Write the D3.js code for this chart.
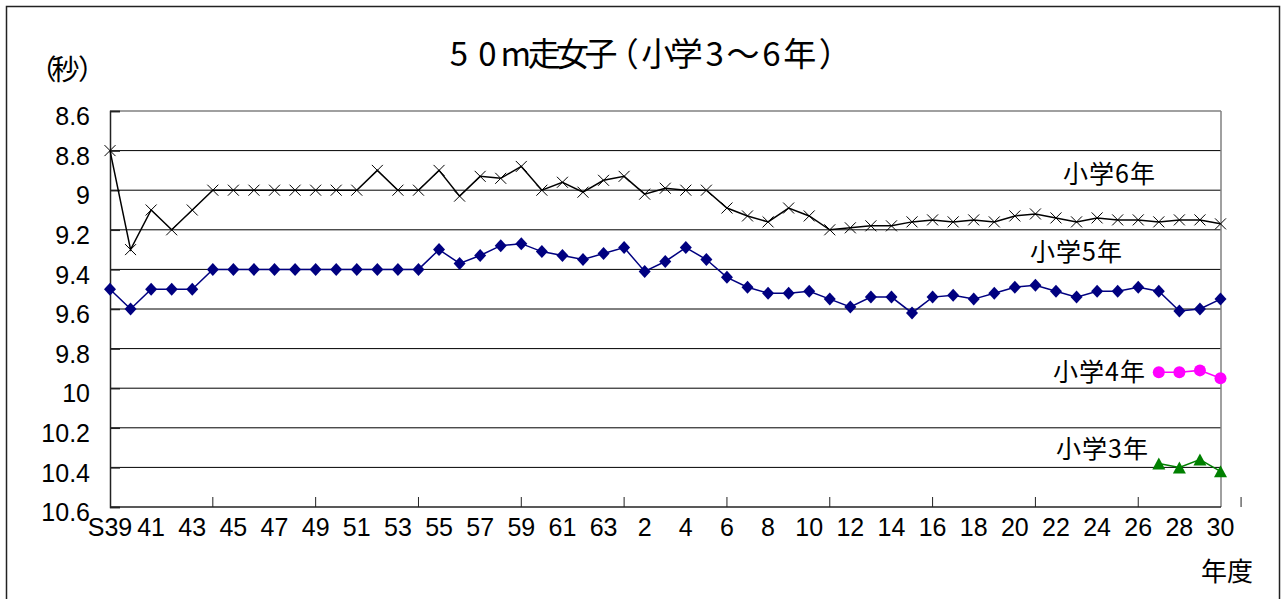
<!DOCTYPE html>
<html>
<head>
<meta charset="utf-8">
<script src="https://cdn.jsdelivr.net/npm/d3@7"></script>
<style>
  html, body { margin: 0; padding: 0; background: #fff; }
  svg { display: block; }
</style>
</head>
<body>
<svg id="chart" width="1282" height="599"></svg>
<script>
// 年度（昭和39年度〜平成30年度）
const categories = [
  "S39","S40","S41","S42","S43","S44","S45","S46","S47","S48","S49","S50","S51","S52",
  "S53","S54","S55","S56","S57","S58","S59","S60","S61","S62","S63",
  "H1","H2","H3","H4","H5","H6","H7","H8","H9","H10","H11","H12","H13","H14","H15",
  "H16","H17","H18","H19","H20","H21","H22","H23","H24","H25","H26","H27","H28","H29","H30"
];

// 横軸に表示する年度ラベル（1年おき）
const xTickLabels = [
  "S39","41","43","45","47","49","51","53","55","57","59","61","63",
  "2","4","6","8","10","12","14","16","18","20","22","24","26","28","30"
];

// 縦軸目盛（秒）
const yTicks = [8.6, 8.8, 9, 9.2, 9.4, 9.6, 9.8, 10, 10.2, 10.4, 10.6];
const yTickLabels = ["8.6","8.8","9","9.2","9.4","9.6","9.8","10","10.2","10.4","10.6"];

// 50m走 平均記録（秒）
const grade6 = [
  8.8, 9.3, 9.1, 9.2, 9.1, 9.0, 9.0, 9.0, 9.0, 9.0, 9.0, 9.0, 9.0, 8.9, 9.0,
  9.0, 8.9, 9.03, 8.93, 8.94, 8.88, 9.0, 8.96, 9.01, 8.95, 8.93, 9.02, 8.99, 9.0, 9.0,
  9.09, 9.13, 9.16, 9.09, 9.13, 9.2, 9.19, 9.18, 9.18, 9.16, 9.15, 9.16, 9.15, 9.16, 9.13,
  9.12, 9.14, 9.16, 9.14, 9.15, 9.15, 9.16, 9.15, 9.15, 9.17
];
const grade5 = [
  9.5, 9.6, 9.5, 9.5, 9.5, 9.4, 9.4, 9.4, 9.4, 9.4, 9.4, 9.4, 9.4, 9.4, 9.4,
  9.4, 9.3, 9.37, 9.33, 9.28, 9.27, 9.31, 9.33, 9.35, 9.32, 9.29, 9.41, 9.36, 9.29, 9.35,
  9.44, 9.49, 9.52, 9.52, 9.51, 9.55, 9.59, 9.54, 9.54, 9.62, 9.54, 9.53, 9.55, 9.52, 9.49,
  9.48, 9.51, 9.54, 9.51, 9.51, 9.49, 9.51, 9.61, 9.60, 9.55
];
const grade4Years = ["H27","H28","H29","H30"];
const grade4 = [9.92, 9.92, 9.91, 9.95];
const grade3Years = ["H27","H28","H29","H30"];
const grade3 = [10.38, 10.40, 10.36, 10.42];

const seriesNames = ["小学6年", "小学5年", "小学4年", "小学3年"];
const seriesColors = ["#000000", "#000080", "#ff00ff", "#008000"];

const svg = d3.select("#chart");
const W = 1282, H = 599;
const plot = { left: 110, right: 1221, top: 111, bottom: 507 };

// 外枠
svg.append("rect")
  .attr("x", 6.5).attr("y", 6.5)
  .attr("width", 1273).attr("height", H + 10)
  .attr("fill", "#fff").attr("stroke", "#222").attr("stroke-width", 1.5);

const x = d3.scalePoint().domain(categories).range([plot.left, plot.right - 0.5]);
const y = d3.scaleLinear().domain([8.6, 10.6]).range([plot.top, plot.bottom]);

const cjk = "'Noto Sans CJK JP', 'Noto Sans', sans-serif";
const latin = "'Liberation Sans', Arial, sans-serif";

// 等幅に並べる見出し（1文字ずつ中心位置を指定）
function monoText(str, cx0, pitch) {
  const chars = Array.from(str);
  return chars.map((c, i) => (cx0 + i * pitch).toFixed(1)).join(" ");
}

// タイトル
const title = "50m走女子（小学3～6年）";
svg.append("text")
  .attr("x", monoText(title, 459, 28.4)).attr("y", 66)
  .attr("text-anchor", "middle")
  .attr("font-family", cjk).attr("font-size", 33)
  .style("font-feature-settings", "'palt'")
  .attr("fill", "#000")
  .text(title);

// 縦軸の単位
svg.append("text")
  .attr("x", "48.5 65.5 86").attr("y", 80)
  .attr("text-anchor", "middle")
  .attr("font-family", cjk).attr("font-size", 28)
  .style("font-feature-settings", "'palt'")
  .text("（秒）");

// 目盛線
const grid = svg.append("g");
grid.selectAll("line")
  .data(yTicks.filter(v => v > 8.6 && v < 10.6))
  .join("line")
  .attr("x1", plot.left).attr("x2", plot.right)
  .attr("y1", d => y(d)).attr("y2", d => y(d))
  .attr("stroke", "#000").attr("stroke-width", 1);

// プロットエリア上端・右端
svg.append("line")
  .attr("x1", plot.left).attr("x2", plot.right)
  .attr("y1", y(8.6)).attr("y2", y(8.6))
  .attr("stroke", "#808080").attr("stroke-width", 1.5);
svg.append("line")
  .attr("x1", plot.right).attr("x2", plot.right)
  .attr("y1", y(8.6)).attr("y2", y(10.6))
  .attr("stroke", "#808080").attr("stroke-width", 1.5);

// 縦軸
const yAxis = d3.axisLeft(y)
  .tickValues(yTicks)
  .tickSize(-10)
  .tickPadding(20)
  .tickFormat((d, i) => yTickLabels[i]);
const gy = svg.append("g").attr("transform", `translate(${plot.left},0)`).call(yAxis);
gy.select(".domain").attr("stroke", "#222").attr("stroke-width", 1.5);
gy.selectAll(".tick line").attr("stroke", "#222").attr("stroke-width", 1.5);
gy.selectAll(".tick text")
  .attr("font-family", latin).attr("font-size", 25)
  .attr("fill", "#000").attr("dy", "0.55em");

// 横軸
const xAxisLine = svg.append("g");
xAxisLine.append("line")
  .attr("x1", plot.left).attr("x2", plot.right)
  .attr("y1", plot.bottom).attr("y2", plot.bottom)
  .attr("stroke", "#222").attr("stroke-width", 1.5);
const tickIdx = d3.range(5, categories.length + 1, 5);
xAxisLine.selectAll("line.tk")
  .data(tickIdx)
  .join("line").attr("class", "tk")
  .attr("x1", d => plot.left + d * x.step()).attr("x2", d => plot.left + d * x.step())
  .attr("y1", plot.bottom).attr("y2", plot.bottom - 10)
  .attr("stroke", "#222").attr("stroke-width", 1);

svg.append("g").selectAll("text")
  .data(xTickLabels)
  .join("text")
  .attr("x", (d, i) => x(categories[i * 2]))
  .attr("y", 536)
  .attr("text-anchor", "middle")
  .attr("font-family", latin).attr("font-size", 25)
  .text(d => d);

svg.append("text")
  .attr("x", 1227).attr("y", 581)
  .attr("text-anchor", "middle")
  .attr("font-family", cjk).attr("font-size", 26)
  .text("年度");

// 系列
const line = d3.line().x(d => x(d.year)).y(d => y(d.value));
const toPoints = (years, values) => values.map((v, i) => ({ year: years[i], value: v }));

const s6 = toPoints(categories, grade6);
const s5 = toPoints(categories, grade5);
const s4 = toPoints(grade4Years, grade4);
const s3 = toPoints(grade3Years, grade3);

const lines = svg.append("g").attr("fill", "none").attr("stroke-width", 1.5);
[[s6, seriesColors[0]], [s5, seriesColors[1]], [s4, seriesColors[2]], [s3, seriesColors[3]]]
  .forEach(([pts, c]) => lines.append("path").attr("d", line(pts)).attr("stroke", c));

// マーカー: ×
svg.append("g").selectAll("path")
  .data(s6).join("path")
  .attr("transform", d => `translate(${x(d.year)},${y(d.value)})`)
  .attr("d", "M-5.5,-5.5L5.5,5.5M-5.5,5.5L5.5,-5.5")
  .attr("stroke", "#000").attr("stroke-width", 1).attr("fill", "none");

// マーカー: ◆
svg.append("g").selectAll("path")
  .data(s5).join("path")
  .attr("transform", d => `translate(${x(d.year)},${y(d.value)})`)
  .attr("d", "M0,-6.5L6,0L0,6.5L-6,0Z")
  .attr("fill", seriesColors[1]);

// マーカー: ●
svg.append("g").selectAll("circle")
  .data(s4).join("circle")
  .attr("cx", d => x(d.year)).attr("cy", d => y(d.value)).attr("r", 6)
  .attr("fill", seriesColors[2]);

// マーカー: ▲
svg.append("g").selectAll("path")
  .data(s3).join("path")
  .attr("transform", d => `translate(${x(d.year)},${y(d.value)})`)
  .attr("d", "M0,-6L6.5,6L-6.5,6Z")
  .attr("fill", seriesColors[3]);

// 系列名ラベル
const labelPos = [
  { name: seriesNames[0], x: 1063, y: 183 },
  { name: seriesNames[1], x: 1030, y: 261 },
  { name: seriesNames[2], x: 1053, y: 381 },
  { name: seriesNames[3], x: 1056, y: 458 }
];
svg.append("g").selectAll("text")
  .data(labelPos).join("text")
  .attr("x", d => d.x).attr("y", d => d.y)
  .attr("font-family", cjk).attr("font-size", 25)
  .attr("letter-spacing", 1)
  .text(d => d.name);
</script>
</body>
</html>
